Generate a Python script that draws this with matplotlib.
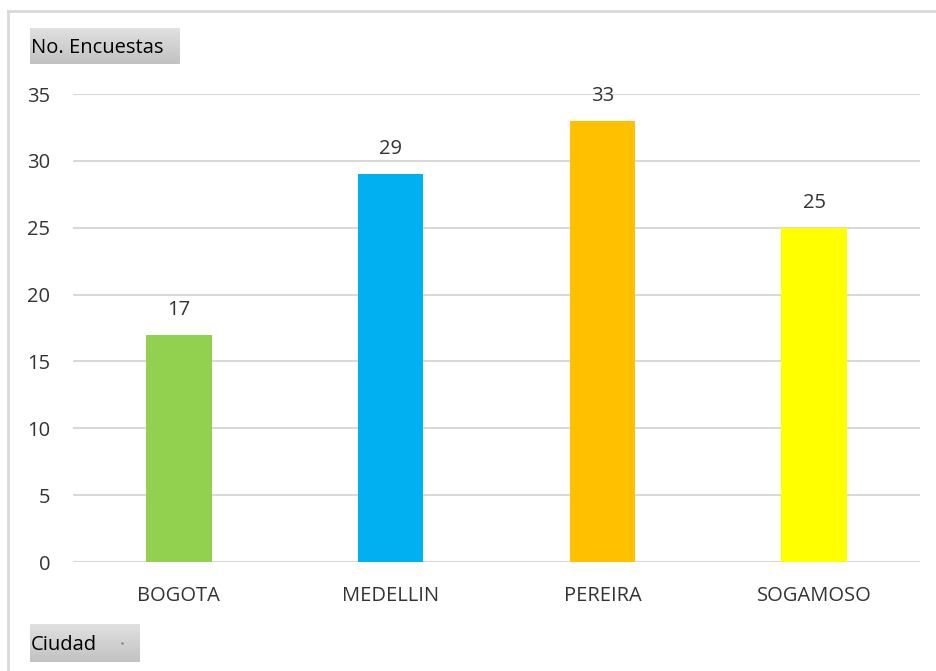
import matplotlib.pyplot as plt
import numpy as np
from matplotlib.lines import Line2D

plt.rcParams['font.family'] = ['Open Sans', 'DejaVu Sans']

ciudades = ['BOGOTA', 'MEDELLIN', 'PEREIRA', 'SOGAMOSO']
encuestas = [17, 29, 33, 25]
colores = ['#92d050', '#00b0f0', '#ffc000', '#ffff00']
yticks = [0, 5, 10, 15, 20, 25, 30, 35]

W, H = 936, 671
fig = plt.figure(figsize=(W / 100, H / 100), dpi=100)

# marco exterior
fig.add_artist(Line2D([8 / W, 1], [1 - 11 / H, 1 - 11 / H], color='#d9d9d9', lw=2))
fig.add_artist(Line2D([8 / W, 8 / W], [0, 1 - 11 / H], color='#d9d9d9', lw=2))

ax = fig.add_axes([73 / W, 1 - 562 / H, (920 - 73) / W, (562 - 94) / H])
x = np.arange(len(ciudades))
bars = ax.bar(x, encuestas, width=0.31, color=colores, zorder=3)
for b, v in zip(bars, encuestas):
    ax.annotate(str(v), (b.get_x() + b.get_width() / 2, v), xytext=(0, 18),
                textcoords='offset points', ha='center', va='center',
                fontsize=14.5, color='#333333')

ax.set_xlim(-0.5, len(ciudades) - 0.5)
ax.set_ylim(0, 35)
ax.set_yticks(yticks)
ax.set_xticks(x)
ax.set_xticklabels(ciudades)
ax.grid(axis='y', color='#d9d9d9', lw=1.5, zorder=0)
ax.tick_params(length=0, labelsize=14.5, colors='#333333')
ax.tick_params(axis='y', pad=16.5)
ax.tick_params(axis='x', pad=17)
for s in ax.spines.values():
    s.set_visible(False)


def caja(x0, y0, x1, y1, texto, punto=False):
    a = fig.add_axes([x0 / W, 1 - y1 / H, (x1 - x0) / W, (y1 - y0) / H])
    grad = np.linspace(0.88, 0.76, 50).reshape(-1, 1)
    a.imshow(np.dstack([grad, grad, grad]), aspect='auto', extent=[0, 1, 0, 1])
    a.set_axis_off()
    a.text(0.01, 0.45, texto, transform=a.transAxes, ha='left', va='center',
           fontsize=14.5, color='#000000')
    if punto:
        a.plot([0.84], [0.5], marker='.', ms=1.5, color='#808080')
    a.set_xlim(0, 1)
    a.set_ylim(0, 1)


caja(30, 28, 180, 64, 'No. Encuestas')
caja(30, 624, 140, 662, 'Ciudad', punto=True)

fig.savefig('out.png', dpi=100)
